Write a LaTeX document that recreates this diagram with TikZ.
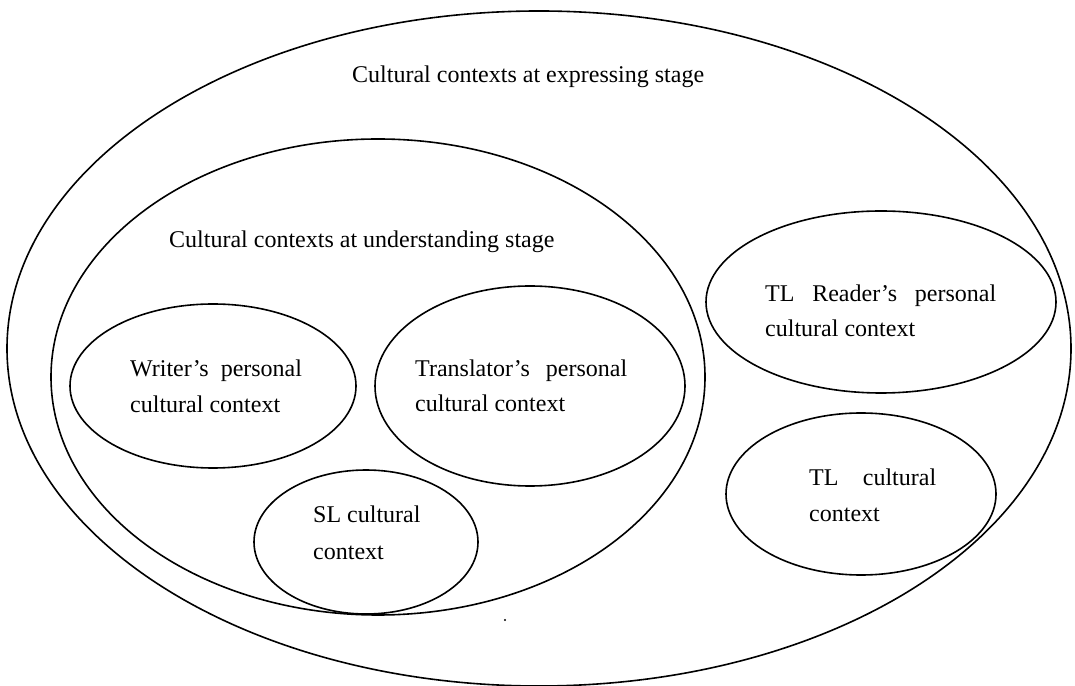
\documentclass[tikz,border=0pt]{standalone}
\usepackage{fontspec}
\setmainfont{Liberation Serif}
\usetikzlibrary{shapes.geometric}
\begin{document}
\begin{tikzpicture}[x=1pt,y=1pt,
  ring/.style={draw, ellipse, line width=1.6pt, inner sep=0pt, outer sep=0pt},
  txt/.style={anchor=base west, inner sep=0pt, font=\fontsize{24}{30}\selectfont}]
\useasboundingbox (0,0) rectangle (1075,685);
\node[ring, minimum width=1064pt, minimum height=675pt] (outer) at (539,336.5) {};
\node[ring, minimum width=654pt, minimum height=476pt] (inner) at (378,308) {};
\node[ring, minimum width=286pt, minimum height=164pt] (writer) at (213,299) {};
\node[ring, minimum width=310pt, minimum height=200pt] (transl) at (530,299) {};
\node[ring, minimum width=224pt, minimum height=144pt] (sl) at (366,143) {};
\node[ring, minimum width=350pt, minimum height=182pt] (reader) at (881,383) {};
\node[ring, minimum width=270pt, minimum height=162pt] (tl) at (861,191) {};

\node[txt] (t1) at (352,602) {Cultural contexts at expressing stage};
\node[txt] (t2) at (169,437) {Cultural contexts at understanding stage};
\node[txt] (w1) at (130,308) {Writer’s\ \ personal};
\node[txt] (w2) at (130,272) {cultural context};
\node[txt] (tr1) at (415,308) {\makebox[212pt][s]{Translator’s personal}};
\node[txt] (tr2) at (415,273) {cultural context};
\node[txt] (s1) at (313,162) {SL cultural};
\node[txt] (s2) at (313,125) {context};
\node[txt] (r1) at (765,383) {\makebox[231pt][s]{TL Reader’s personal}};
\node[txt] (r2) at (765,348) {cultural context};
\node[txt] (c1) at (809,199) {\makebox[127pt][s]{TL cultural}};
\node[txt] (c2) at (809,163) {context};
\fill (505,65) circle (1.1pt);
\end{tikzpicture}
\end{document}
